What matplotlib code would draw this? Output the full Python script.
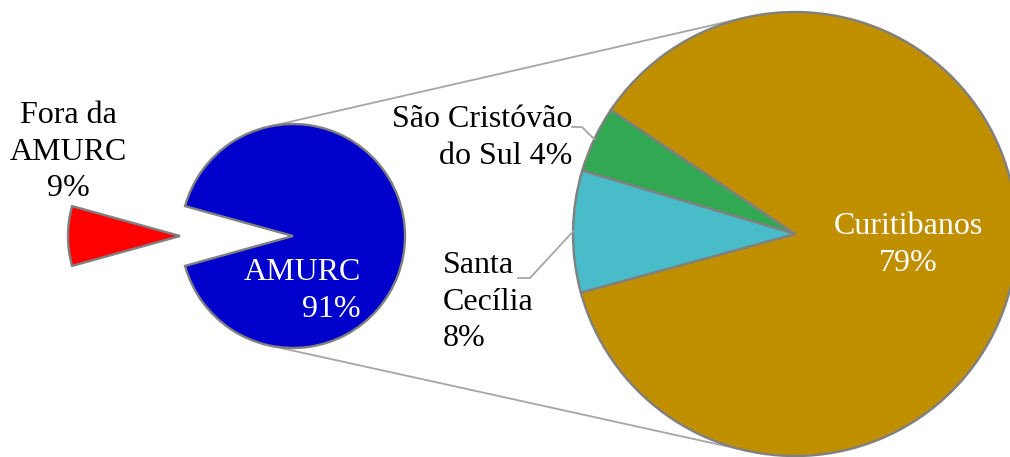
import numpy as np
import matplotlib
matplotlib.use("Agg")
import matplotlib.pyplot as plt

# ---- data ----
main_labels = ["AMURC\n91%", "Fora da\nAMURC\n9%"]
main_values = [91.4, 8.6]
main_colors = ["#0000CC", "#FF0000"]

sub_labels = ["Curitibanos\n79%", "São Cristóvão\ndo Sul 4%", "Santa\nCecília\n8%"]
sub_values = [78.9, 4.4, 8.1]
sub_colors = ["#BF8F00", "#33A853", "#48BCC8"]

W, H = 1010, 457
fig = plt.figure(figsize=(W / 100, H / 100), dpi=100)
ax = fig.add_axes([0, 0, 1, 1])

FONT = "Liberation Serif"
FS = 23
LS = 1.33
EDGE = "#808080"
LINE = "#A6A6A6"

# geometry (pixel coordinates, y up)
c1 = np.array([293.0, 221.0]); r1 = 112.0
c2 = np.array([795.0, 223.0]); r2 = 222.0
explode_dist = 113.0

# external common tangents (connector lines)
d = c2 - c1
dist = np.hypot(*d)
base = np.arctan2(d[1], d[0])
a = np.arcsin((r2 - r1) / dist)
for sgn in (1, -1):
    ang = base + sgn * (np.pi / 2 + a)
    p1 = c1 + r1 * np.array([np.cos(ang), np.sin(ang)])
    p2 = c2 + r2 * np.array([np.cos(ang), np.sin(ang)])
    ax.plot([p1[0], p2[0]], [p1[1], p2[1]], color=LINE, lw=1.3, zorder=0)

# main pie
span_other = 360 * main_values[1] / sum(main_values)
start1 = 180 + span_other / 2
w1, _ = ax.pie(main_values, colors=main_colors, center=tuple(c1), radius=r1,
               startangle=start1, counterclock=True,
               explode=[0, explode_dist],
               wedgeprops=dict(edgecolor=EDGE, linewidth=1.7))

# sub pie
start2 = 195.3
w2, _ = ax.pie(sub_values, colors=sub_colors, center=tuple(c2), radius=r2,
               startangle=start2, counterclock=True,
               wedgeprops=dict(edgecolor=EDGE, linewidth=1.7))

def py(y):
    return H - y

# labels
ax.text(361, py(291), main_labels[0], ha="right", va="center", ma="right",
        color="white", fontsize=FS, family=FONT, linespacing=LS)
ax.text(68, py(152), main_labels[1], ha="center", va="center", ma="center",
        color="black", fontsize=FS, family=FONT, linespacing=LS)
ax.text(908, py(245), sub_labels[0], ha="center", va="center", ma="center",
        color="white", fontsize=FS, family=FONT, linespacing=LS)
ax.text(572, py(138), sub_labels[1], ha="right", va="center", ma="right",
        color="black", fontsize=FS, family=FONT, linespacing=LS)
ax.text(443, py(302), sub_labels[2], ha="left", va="center", ma="left",
        color="black", fontsize=FS, family=FONT, linespacing=LS)

# leader lines to wedge midpoints
def mid_point(w):
    t = np.deg2rad((w.theta1 + w.theta2) / 2)
    return np.array(w.center) + w.r * np.array([np.cos(t), np.sin(t)])

pm = mid_point(w2[1])
ax.plot([572, 582, pm[0]], [py(127), py(127), pm[1]], color=LINE, lw=1.3, zorder=5)
pm = mid_point(w2[2])
ax.plot([518, 530, pm[0]], [py(278), py(278), pm[1]], color=LINE, lw=1.3, zorder=5)

ax.set_xlim(0, W)
ax.set_ylim(0, H)
ax.set_aspect("equal")
ax.axis("off")
fig.savefig("out.png", dpi=100)
